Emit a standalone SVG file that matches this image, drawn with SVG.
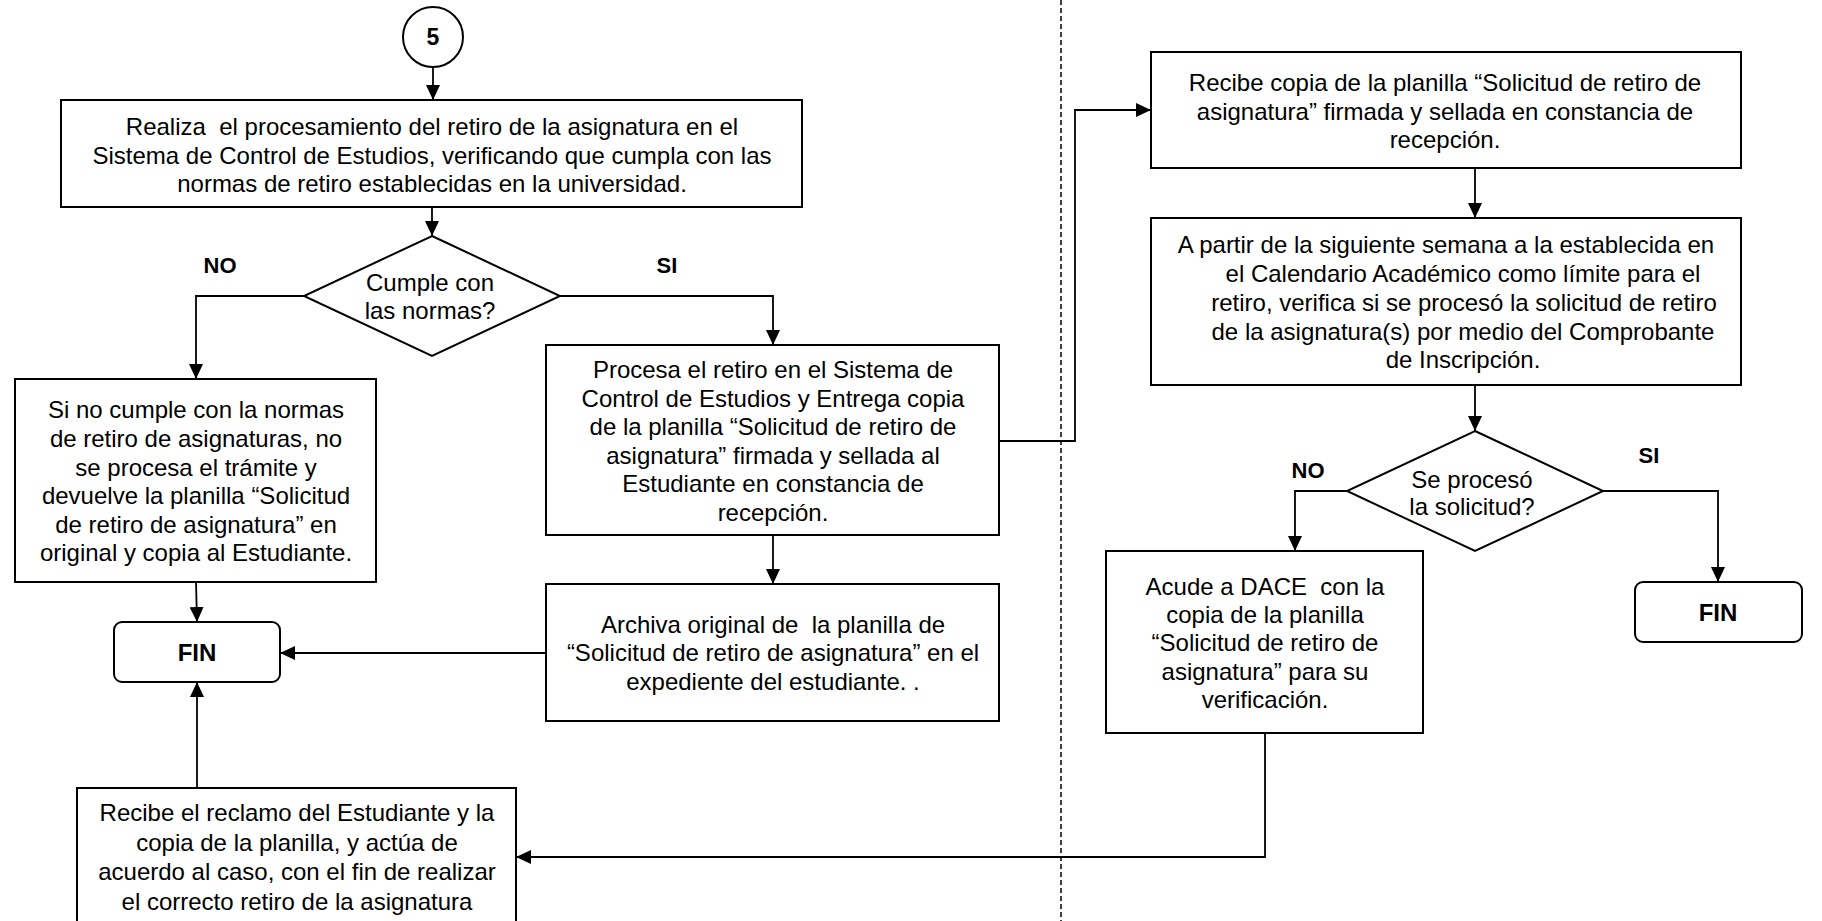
<svg xmlns="http://www.w3.org/2000/svg" width="1822" height="921" viewBox="0 0 1822 921">
<style>
  .box { fill: #fff; stroke: #000; stroke-width: 2; }
  .t { font-family: "Liberation Sans", Arial, sans-serif; font-size: 24px; fill: #000; text-anchor: middle; white-space: pre; }
  .b { font-family: "Liberation Sans", Arial, sans-serif; font-weight: bold; fill: #000; text-anchor: middle; }
  .c { fill: none; stroke: #000; stroke-width: 1.8; marker-end: url(#arr); }
</style>
<defs>
  <marker id="arr" markerUnits="userSpaceOnUse" markerWidth="15" markerHeight="14" refX="15" refY="7" orient="auto">
    <path d="M0,0 L15,7 L0,14 Z" fill="#000"/>
  </marker>
</defs>
<rect width="1822" height="921" fill="#fff"/>

<line x1="1061" y1="0" x2="1061" y2="921" stroke="#000" stroke-width="1.5" stroke-dasharray="5 3"/>

<g id="connectors">
  <path class="c" d="M433,67 L433,100"/>
  <path class="c" d="M432,207 L432,236"/>
  <path class="c" d="M304,296 L196,296 L196,379"/>
  <path class="c" d="M560,296 L773,296 L773,345"/>
  <path class="c" d="M196,582 L197,622"/>
  <path class="c" d="M773,535 L773,584"/>
  <path class="c" d="M546,653 L280,653"/>
  <path class="c" d="M197,788 L197,682"/>
  <path class="c" d="M999,441 L1075,441 L1075,110 L1151,110"/>
  <path class="c" d="M1475,168 L1475,218"/>
  <path class="c" d="M1475,385 L1475,431"/>
  <path class="c" d="M1347,491 L1295,491 L1295,551"/>
  <path class="c" d="M1603,491 L1718,491 L1718,582"/>
  <path class="c" d="M1265,733 L1265,857 L516,857"/>
</g>

<g id="start5">
  <circle cx="433" cy="37" r="30" fill="#fff" stroke="#000" stroke-width="2"/>
  <text class="b" x="433" y="45" font-size="23">5</text>
</g>

<g id="box1">
  <rect class="box" x="61" y="100" width="741" height="107"/>
  <text class="t" xml:space="preserve" x="432" y="135">Realiza  el procesamiento del retiro de la asignatura en el</text>
  <text class="t" x="432" y="164">Sistema de Control de Estudios, verificando que cumpla con las</text>
  <text class="t" x="432" y="192">normas de retiro establecidas en la universidad.</text>
</g>

<g id="dec1">
  <polygon points="432,236 560,296 432,356 304,296" fill="#fff" stroke="#000" stroke-width="2"/>
  <text class="t" x="430" y="291">Cumple con</text>
  <text class="t" x="430" y="319">las normas?</text>
</g>
<g id="lblNo1"><text class="b" x="220" y="273" font-size="22">NO</text></g>
<g id="lblSi1"><text class="b" x="667" y="273" font-size="22">SI</text></g>

<g id="boxNo">
  <rect class="box" x="15" y="379" width="361" height="203"/>
  <text class="t" x="196" y="418">Si no cumple con la normas</text>
  <text class="t" x="196" y="447">de retiro de asignaturas, no</text>
  <text class="t" x="196" y="476">se procesa el trámite y</text>
  <text class="t" x="196" y="504">devuelve la planilla “Solicitud</text>
  <text class="t" x="196" y="533">de retiro de asignatura” en</text>
  <text class="t" x="196" y="561">original y copia al Estudiante.</text>
</g>

<g id="fin1">
  <rect class="box" x="114" y="622" width="166" height="60" rx="8"/>
  <text class="b" x="197" y="661" font-size="24">FIN</text>
</g>

<g id="boxProc">
  <rect class="box" x="546" y="345" width="453" height="190"/>
  <text class="t" x="773" y="378">Procesa el retiro en el Sistema de</text>
  <text class="t" x="773" y="407">Control de Estudios y Entrega copia</text>
  <text class="t" x="773" y="435">de la planilla “Solicitud de retiro de</text>
  <text class="t" x="773" y="464">asignatura” firmada y sellada al</text>
  <text class="t" x="773" y="492">Estudiante en constancia de</text>
  <text class="t" x="773" y="521">recepción.</text>
</g>

<g id="boxArch">
  <rect class="box" x="546" y="584" width="453" height="137"/>
  <text class="t" xml:space="preserve" x="773" y="633">Archiva original de  la planilla de</text>
  <text class="t" x="773" y="661">“Solicitud de retiro de asignatura” en el</text>
  <text class="t" x="773" y="690">expediente del estudiante. .</text>
</g>

<g id="boxReclamo">
  <rect class="box" x="77" y="788" width="439" height="150"/>
  <text class="t" x="297" y="821">Recibe el reclamo del Estudiante y la</text>
  <text class="t" x="297" y="851">copia de la planilla, y actúa de</text>
  <text class="t" x="297" y="880">acuerdo al caso, con el fin de realizar</text>
  <text class="t" x="297" y="910">el correcto retiro de la asignatura</text>
</g>

<g id="boxRecibe">
  <rect class="box" x="1151" y="52" width="590" height="116"/>
  <text class="t" x="1445" y="91">Recibe copia de la planilla “Solicitud de retiro de</text>
  <text class="t" x="1445" y="120">asignatura” firmada y sellada en constancia de</text>
  <text class="t" x="1445" y="148">recepción.</text>
</g>

<g id="boxVerifica">
  <rect class="box" x="1151" y="218" width="590" height="167"/>
  <text class="t" x="1446" y="253">A partir de la siguiente semana a la establecida en</text>
  <text class="t" x="1463" y="282">el Calendario Académico como límite para el</text>
  <text class="t" x="1464" y="311">retiro, verifica si se procesó la solicitud de retiro</text>
  <text class="t" x="1463" y="340">de la asignatura(s) por medio del Comprobante</text>
  <text class="t" x="1463" y="368">de Inscripción.</text>
</g>

<g id="dec2">
  <polygon points="1475,431 1603,491 1475,551 1347,491" fill="#fff" stroke="#000" stroke-width="2"/>
  <text class="t" x="1472" y="488">Se procesó</text>
  <text class="t" x="1472" y="515">la solicitud?</text>
</g>
<g id="lblNo2"><text class="b" x="1308" y="478" font-size="22">NO</text></g>
<g id="lblSi2"><text class="b" x="1649" y="463" font-size="22">SI</text></g>

<g id="boxDace">
  <rect class="box" x="1106" y="551" width="317" height="182"/>
  <text class="t" xml:space="preserve" x="1265" y="595">Acude a DACE  con la</text>
  <text class="t" x="1265" y="623">copia de la planilla</text>
  <text class="t" x="1265" y="651">“Solicitud de retiro de</text>
  <text class="t" x="1265" y="680">asignatura” para su</text>
  <text class="t" x="1265" y="708">verificación.</text>
</g>

<g id="fin2">
  <rect class="box" x="1635" y="582" width="167" height="60" rx="8"/>
  <text class="b" x="1718" y="621" font-size="24">FIN</text>
</g>
</svg>
